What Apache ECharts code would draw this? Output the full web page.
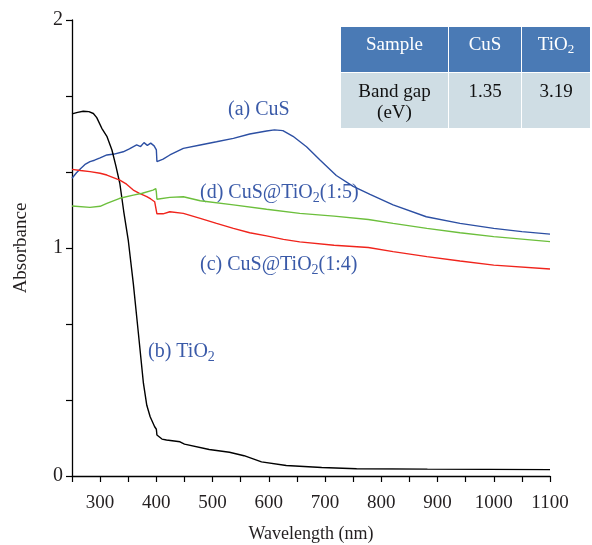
<!DOCTYPE html>
<html>
<head>
<meta charset="utf-8">
<script src="https://cdn.jsdelivr.net/npm/echarts@6/dist/echarts.min.js"></script>
<style>
  html, body { margin: 0; padding: 0; background: #fff; }
  #chart { width: 592px; height: 545px; }
</style>
</head>
<body>
<div id="chart"></div>
<script>
// [wavelength (nm), absorbance]
var cusData = [[250,1.306],[258,1.33],[266,1.35],[274,1.368],[282,1.379],[290,1.385],[300,1.395],[312,1.408],[325,1.412],[341,1.422],[352,1.435],[365,1.452],[372,1.445],[378,1.462],[384,1.45],[390,1.46],[396,1.448],[399,1.455],[400,1.43],[401,1.379],[403,1.379],[412,1.39],[424,1.408],[448,1.437],[478,1.452],[507,1.466],[537,1.481],[566,1.5],[596,1.513],[610,1.518],[625,1.515],[643,1.49],[667,1.444],[691,1.386],[720,1.318],[750,1.27],[780,1.235],[821,1.189],[880,1.137],[940,1.108],[1000,1.086],[1050,1.072],[1100,1.061]]
var tio2Data = [[250,1.588],[260,1.595],[270,1.6],[280,1.598],[288,1.59],[294,1.572],[303,1.525],[312,1.49],[321,1.43],[328,1.36],[335,1.284],[342,1.16],[350,1.035],[359,0.845],[368,0.627],[377,0.407],[383,0.31],[389,0.26],[397,0.216],[400,0.205],[401,0.18],[410,0.162],[418,0.158],[442,0.15],[450,0.14],[494,0.116],[530,0.104],[556,0.089],[587,0.062],[631,0.046],[694,0.037],[756,0.032],[882,0.03],[1100,0.028]]
var cusTio2_14 = [[250,1.345],[265,1.34],[282,1.335],[300,1.328],[312,1.32],[335,1.298],[347,1.28],[359,1.254],[370,1.24],[383,1.225],[390,1.215],[397,1.203],[400,1.2],[401,1.15],[403,1.145],[412,1.15],[424,1.159],[448,1.152],[478,1.13],[507,1.108],[537,1.086],[566,1.067],[596,1.053],[626,1.038],[655,1.027],[716,1.012],[777,1.002],[821,0.984],[881,0.962],[940,0.943],[1000,0.925],[1100,0.908]]
var cusTio2_15 = [[250,1.184],[282,1.178],[300,1.183],[312,1.196],[335,1.218],[359,1.232],[375,1.24],[394,1.254],[399,1.26],[400,1.245],[401,1.214],[403,1.21],[424,1.222],[448,1.225],[478,1.207],[537,1.189],[596,1.17],[655,1.152],[716,1.14],[777,1.125],[821,1.108],[881,1.086],[940,1.067],[1000,1.05],[1100,1.028]]

var tableHead = ['Sample', 'CuS', 'TiO{sub|2}']
var tableRow = ['Band gap\n(eV)', '1.35', '3.19']

var serif = 'Liberation Serif'
var labelBlue = '#3a5aa8'

var myChart = echarts.init(document.getElementById('chart'))

// 表格
var colX = [341, 449, 522]
var colW = [107, 72, 68]
var table = []
for (var i = 0; i < 3; i++) {
  table.push({
    type: 'rect',
    shape: { x: colX[i], y: 27, width: colW[i], height: 45 },
    style: { fill: '#4a7ab5' }
  })
  table.push({
    type: 'rect',
    shape: { x: colX[i], y: 73, width: colW[i], height: 55 },
    style: { fill: '#cfdde4' }
  })
  table.push({
    type: 'text',
    x: colX[i] + colW[i] / 2, y: 45,
    style: {
      text: tableHead[i], fill: '#fff', font: '19px "' + serif + '"',
      textAlign: 'center', textVerticalAlign: 'middle',
      rich: { sub: { fontSize: 13, fontFamily: serif, fill: '#fff', padding: [10, 0, 0, 0] } }
    }
  })
  table.push({
    type: 'text',
    x: colX[i] + colW[i] / 2, y: 82,
    style: {
      text: tableRow[i], fill: '#111', font: '19px "' + serif + '"',
      textAlign: 'center', textVerticalAlign: 'top', lineHeight: 21
    }
  })
}

function curveLabel(x, y, txt) {
  return {
    type: 'text', x: x, y: y,
    style: {
      text: txt, fill: labelBlue, font: '20px "' + serif + '"',
      textAlign: 'left', textVerticalAlign: 'middle',
      rich: { sub: { fontSize: 14, fontFamily: serif, fill: labelBlue, padding: [11, 0, 0, 0] } }
    }
  }
}

var labels = [
  curveLabel(228, 110, '(a) CuS'),
  curveLabel(200, 193, '(d) CuS@TiO{sub|2}(1:5)'),
  curveLabel(200, 265, '(c) CuS@TiO{sub|2}(1:4)'),
  curveLabel(148, 352, '(b) TiO{sub|2}')
]

function line(name, data, color) {
  return {
    name: name, type: 'line', data: data, showSymbol: false,
    lineStyle: { color: color, width: 1.4 }, z: 2
  }
}

var option = {
  animation: false,
  grid: { left: 72, right: 42, top: 20, bottom: 69, containLabel: false, outerBoundsMode: 'none' },
  xAxis: {
    type: 'value', min: 250, max: 1100, interval: 50,
    name: 'Wavelength (nm)', nameLocation: 'middle', nameGap: 49,
    nameTextStyle: { fontFamily: serif, fontSize: 18, color: '#231f20' },
    axisLine: { onZero: false, lineStyle: { color: '#000', width: 1.3 } },
    axisTick: { length: 6, lineStyle: { color: '#000', width: 1.2 } },
    axisLabel: {
      fontFamily: serif, fontSize: 19, color: '#231f20', margin: 18,
      formatter: function (v) { return v % 100 === 0 ? v : '' }
    },
    splitLine: { show: false }
  },
  yAxis: {
    type: 'value', min: 0, max: 2, interval: 1,
    name: 'Absorbance', nameLocation: 'middle', nameGap: 41, nameRotate: 90,
    nameTextStyle: { fontFamily: serif, fontSize: 19, color: '#231f20' },
    axisLine: { show: true, lineStyle: { color: '#000', width: 1.3 } },
    axisTick: { show: true, length: 6, lineStyle: { color: '#000', width: 1.2 } },
    minorTick: { show: true, splitNumber: 3, length: 6, lineStyle: { color: '#000', width: 1.2 } },
    axisLabel: { fontFamily: serif, fontSize: 20, color: '#231f20', margin: 9 },
    splitLine: { show: false }
  },
  series: [
    line('(a) CuS', cusData, '#2c4fa3'),
    line('(b) TiO2', tio2Data, '#000'),
    line('(c) CuS@TiO2(1:4)', cusTio2_14, '#f0241c'),
    line('(d) CuS@TiO2(1:5)', cusTio2_15, '#6cbf3c')
  ],
  graphic: table.concat(labels)
}
myChart.setOption(option)
</script>
</body>
</html>
